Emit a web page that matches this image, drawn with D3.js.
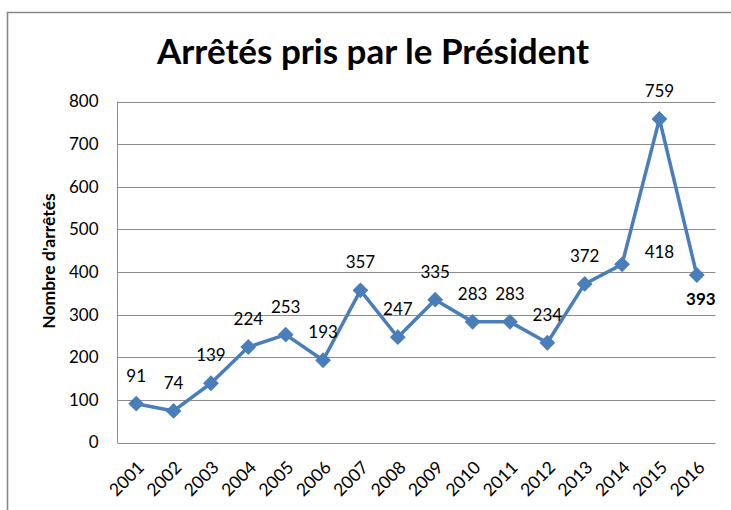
<!DOCTYPE html>
<html>
<head>
<meta charset="utf-8">
<script src="https://cdn.jsdelivr.net/npm/d3@7"></script>
<style>
  body { margin: 0; background: #fff; }
  svg { display: block; }
  text { font-family: Lato, "Open Sans", sans-serif; fill: #000; }
</style>
</head>
<body>
<div id="chart"></div>
<script>
// données
const annees = ["2001", "2002", "2003", "2004", "2005", "2006", "2007", "2008",
                "2009", "2010", "2011", "2012", "2013", "2014", "2015", "2016"];
const arretes = [91, 74, 139, 224, 253, 193, 357, 247, 335, 283, 283, 234, 372, 418, 759, 393];
const yTicks = [0, 100, 200, 300, 400, 500, 600, 700, 800];
const titre = "Arrêtés pris par le Président";
const titreAxeY = "Nombre d'arrêtés";

var width = 731;
var height = 510;
var plot = { left: 117.5, right: 715.5, top: 101.5, bottom: 442.5 };
var bleu = "#4a7ebb";

var svg = d3.select("#chart")
    .append("svg")
    .attr("width", width)
    .attr("height", height);

// cadre (seuls les bords haut et gauche sont visibles)
svg.append("path")
    .attr("d", "M7.5," + height + "V12.5H" + width)
    .attr("fill", "none")
    .attr("stroke", "#878787")
    .attr("stroke-width", 1.6);

var x = d3.scaleBand()
    .domain(annees)
    .range([plot.left, plot.right]);

var y = d3.scaleLinear()
    .domain([0, 800])
    .range([plot.bottom, plot.top]);

// grille horizontale
svg.append("g")
    .selectAll("line")
    .data(yTicks)
    .enter()
    .append("line")
    .attr("x1", plot.left)
    .attr("x2", plot.right)
    .attr("y1", d => Math.round(y(d)) + 0.5)
    .attr("y2", d => Math.round(y(d)) + 0.5)
    .attr("stroke", "#8c8c8c")
    .attr("stroke-width", 1);

// axe vertical
svg.append("line")
    .attr("x1", plot.left)
    .attr("x2", plot.left)
    .attr("y1", plot.top)
    .attr("y2", plot.bottom + 0.5)
    .attr("stroke", "#8c8c8c");

var axeY = d3.axisLeft(y).tickValues(yTicks).tickSize(0).tickPadding(19);
svg.append("g")
    .attr("transform", "translate(" + plot.left + ",0)")
    .call(axeY)
    .call(g => g.select(".domain").remove())
    .selectAll("text")
    .style("font-size", "17px")
    .attr("fill", "#000");

var axeX = d3.axisBottom(x).tickSize(0);
svg.append("g")
    .attr("transform", "translate(0," + plot.bottom + ")")
    .call(axeX)
    .call(g => g.select(".domain").remove())
    .selectAll("text")
    .style("font-size", "17.5px")
    .attr("fill", "#000")
    .style("text-anchor", "end")
    .attr("dx", 0)
    .attr("dy", 0)
    .attr("transform", "translate(7,24) rotate(-45)");

// titre
svg.append("text")
    .attr("x", 373)
    .attr("y", 64)
    .attr("text-anchor", "middle")
    .style("font-size", "35px")
    .style("font-weight", "bold")
    .text(titre);

svg.append("text")
    .attr("transform", "translate(55,261) rotate(-90)")
    .attr("text-anchor", "middle")
    .style("font-size", "17.5px")
    .style("font-weight", "bold")
    .text(titreAxeY);

var points = annees.map((a, i) => ({ annee: a, valeur: arretes[i] }));

var ligne = d3.line()
    .x(d => x(d.annee) + x.bandwidth() / 2)
    .y(d => y(d.valeur));

svg.append("path")
    .datum(points)
    .attr("d", ligne)
    .attr("fill", "none")
    .attr("stroke", bleu)
    .attr("stroke-width", 3.5)
    .attr("stroke-linejoin", "round");

svg.append("g")
    .selectAll("path")
    .data(points)
    .enter()
    .append("path")
    .attr("d", d3.symbol().type(d3.symbolSquare).size(125))
    .attr("fill", bleu)
    .attr("transform", d => "translate(" + (x(d.annee) + x.bandwidth() / 2) + "," + y(d.valeur) + ") rotate(45)");

// étiquettes de données (deux déplacées à la main comme dans l'original)
function decalage(d) {
    if (d.annee === "2014") return { dx: x.bandwidth(), dy: -6 };
    if (d.annee === "2016") return { dx: 4, dy: 30 };
    return { dx: 0, dy: -22 };
}

svg.append("g")
    .selectAll("text")
    .data(points)
    .enter()
    .append("text")
    .attr("x", d => x(d.annee) + x.bandwidth() / 2 + decalage(d).dx)
    .attr("y", d => y(d.valeur) + decalage(d).dy)
    .attr("text-anchor", "middle")
    .style("font-size", "17px")
    .style("font-weight", d => d.annee === "2016" ? "bold" : "normal")
    .text(d => d.valeur);
</script>
</body>
</html>
